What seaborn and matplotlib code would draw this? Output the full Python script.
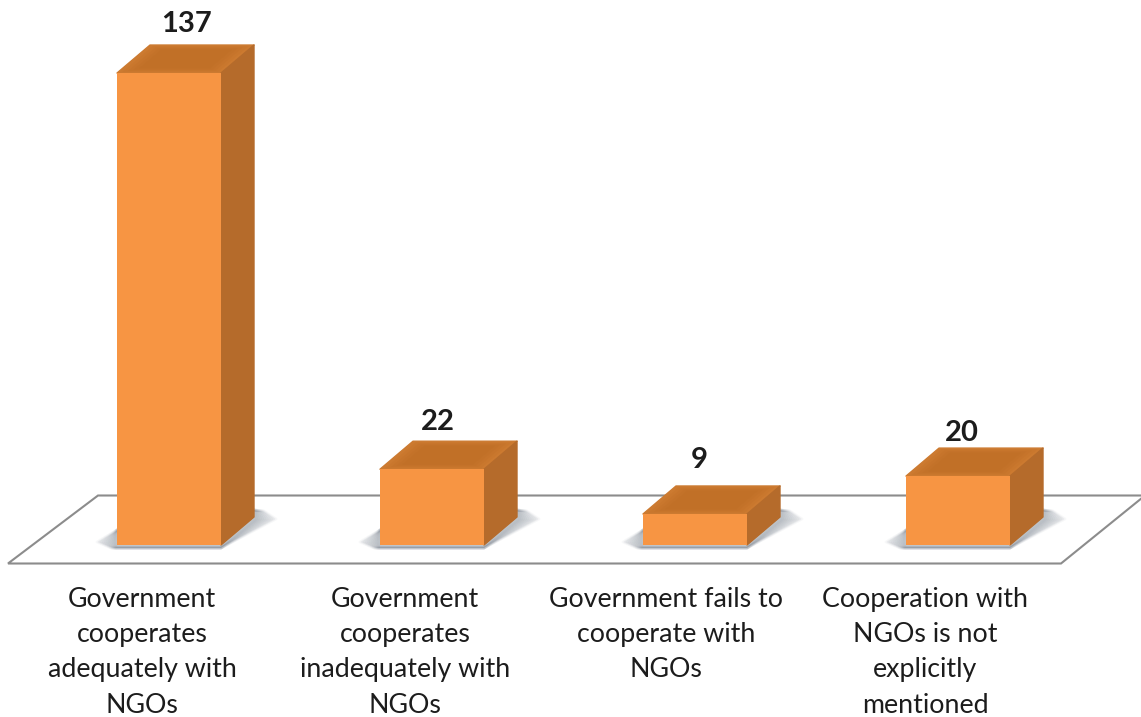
import matplotlib
matplotlib.use("Agg")
import matplotlib.pyplot as plt
from matplotlib.patches import Polygon
import numpy as np
import pandas as pd
import seaborn as sns

categories = [
    "Government\ncooperates\nadequately with\nNGOs",
    "Government\ncooperates\ninadequately with\nNGOs",
    "Government fails to\ncooperate with\nNGOs",
    "Cooperation with\nNGOs is not\nexplicitly\nmentioned",
]
values = [137, 22, 9, 20]

W, H = 1141, 717
PX_X = 263.0      # pixels per category
PX_Y = 3.445      # pixels per unit
X0, Y0 = 169.0, 545.0  # pixel position of first category, baseline

sns.set_theme(style="white")
fig = plt.figure(figsize=(W / 100, H / 100), dpi=100, facecolor="white")
ax = fig.add_axes([0, 0, 1, 1])

df = pd.DataFrame({"category": categories, "value": values})
sns.barplot(data=df, x="category", y="value", color="#F79543", saturation=1,
            width=104 / PX_X, ax=ax, zorder=5, linewidth=0)
ax.set_xlim(-X0 / PX_X, (W - X0) / PX_X)
ax.set_ylim(-(H - Y0) / PX_Y, Y0 / PX_Y)
ax.axis("off")
bars = list(ax.patches[:4])


def pt(px, py):
    return ((px - X0) / PX_X, (Y0 - py) / PX_Y)


def inset(poly, frac):
    p = np.asarray(poly)
    c = p.mean(axis=0)
    return c + (p - c) * frac


# floor outline
floor = [pt(8, 563.5), pt(98, 495.5), pt(1145, 495.5), pt(1061, 563.5)]
ax.add_patch(Polygon(floor, closed=True, fc="white", ec="#8c8c8c", lw=1.5, zorder=1,
                     joinstyle="miter"))

dx = 33 / PX_X
dy = 28 / PX_Y
num_dx = [18, 6, 4, 4]
num_gap = [21, 19, 26, 15]
ux, uy = 1 / PX_X, 1 / PX_Y

for patch, val, ndx, gap in zip(bars, values, num_dx, num_gap):
    x0 = patch.get_x()
    x1 = x0 + patch.get_width()
    # soft shadow on the floor: stacked translucent footprints of growing size
    for g in [1, .9, .8, .7, .6, .5, .4, .3, .2, .1]:
        foot = [(x0 - 20 * g * ux, 3 * uy), (x0 - 6 * g * ux, -3 * uy), (x1, -3 * uy),
                (x1 + dx + 22 * g * ux, 26 * uy), (x1 + dx + 10 * g * ux, 34 * uy),
                (x1 + dx, 35 * uy), (x0, 15 * uy)]
        ax.add_patch(Polygon(foot, closed=True, fc=(.36, .40, .46, .045),
                             ec=(.36, .40, .46, .045), lw=2, joinstyle="round", zorder=2))
    top = [(x0, val), (x1, val), (x1 + dx, val + dy), (x0 + dx, val + dy)]
    side = [(x1, 0), (x1 + dx, dy), (x1 + dx, val + dy), (x1, val)]
    ax.add_patch(Polygon(top, closed=True, fc="#CC7A30", ec="#CC7A30", lw=1,
                         joinstyle="round", zorder=4))
    for frac in [.92, .84, .76, .68]:
        ax.add_patch(Polygon(inset(top, frac), closed=True, fc="#B5651F", ec="none",
                             alpha=.13, zorder=4))
    ax.add_patch(Polygon(side, closed=True, fc="#B56B2B", ec="#B56B2B", lw=1,
                         joinstyle="round", zorder=4))
    ax.text((x0 + x1) / 2 + ndx * ux, val + dy + gap * uy, str(val),
            ha="center", va="center", fontsize=21, fontweight="bold",
            family="Lato", color="#1c1c1c", zorder=6)

label_offset = [-27, -27, -29, -33]
for i, lab in enumerate(categories):
    ax.annotate(lab, xy=(i, 0), xytext=(label_offset[i], -(587 - Y0)), textcoords="offset pixels",
                ha="center", va="top", multialignment="center", fontsize=19.3,
                family="Lato", color="#1c1c1c", linespacing=1.51, zorder=6)

fig.savefig("out.png", dpi=100)
